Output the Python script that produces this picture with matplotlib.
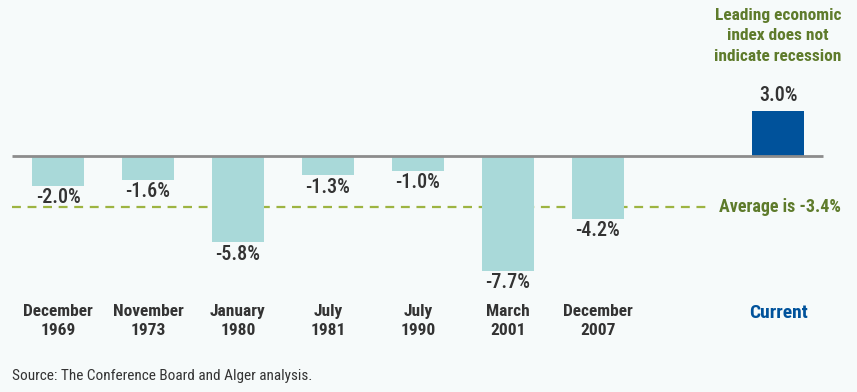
import matplotlib
matplotlib.use("Agg")
import matplotlib.pyplot as plt

categories = ["December\n1969", "November\n1973", "January\n1980", "July\n1981",
              "July\n1990", "March\n2001", "December\n2007", "", "Current"]
values = [-2.0, -1.6, -5.8, -1.3, -1.0, -7.7, -4.2, None, 3.0]
average = -3.4
value_labels = ["-2.0%", "-1.6%", "-5.8%", "-1.3%", "-1.0%", "-7.7%", "-4.2%", "", "3.0%"]

FONT = ["Liberation Sans Narrow", "Roboto Condensed", "DejaVu Sans"]
BG = "#F6FAFA"
TEAL = "#A9D9D9"
BLUE = "#00529B"
DARK = "#333333"
GREEN = "#5E7B2B"
DASH = "#9DB441"

W, H = 857, 392
fig = plt.figure(figsize=(W / 100, H / 100), dpi=100, facecolor=BG)
ax = fig.add_axes([0, 0, 1, 1])
ax.set_facecolor(BG)

x0, dx = 58, 90
ppu = 14.9
y0 = 156
ax.set_xlim((0 - x0) / dx, (W - x0) / dx)
ax.set_ylim(-(H - y0) / ppu, y0 / ppu)
ax.axis("off")

def px_x(p):
    return (p - x0) / dx

def px_y(p):
    return (y0 - p) / ppu

for i, v in enumerate(values):
    if v is None:
        continue
    color = BLUE if categories[i] == "Current" else TEAL
    ax.bar(i, v, width=0.58, color=color, zorder=2)
    if v < 0:
        ax.text(i, v - 0.15, value_labels[i], ha="center", va="top", fontsize=14.5,
                color=DARK, family=FONT, fontweight="medium", zorder=3)
    else:
        ax.text(i, v + 0.4, value_labels[i], ha="center", va="bottom", fontsize=14.5,
                color=DARK, family=FONT, fontweight="medium", zorder=3)

# zero line
ax.plot([px_x(12), px_x(823)], [0, 0], color="#8C8C8C", lw=2, zorder=3,
        solid_capstyle="butt")
# average line
ax.plot([px_x(12), px_x(712)], [average, average], color=DASH, lw=1.6,
        ls=(0, (4, 3)), zorder=1)
ax.text(px_x(719), average, "Average is -3.4%", ha="left", va="center",
        fontsize=13, fontweight="bold", color=GREEN, family=FONT)

# category labels
for i, c in enumerate(categories):
    if not c:
        continue
    col = BLUE if c == "Current" else DARK
    fs = 14 if c == "Current" else 12.5
    ax.text(i, px_y(304), c, ha="center", va="top", fontsize=fs, fontweight="bold",
            color=col, family=FONT, linespacing=1.3)

# annotation
ax.text(8, px_y(8), "Leading economic\nindex does not\nindicate recession", ha="center",
        va="top", fontsize=12.5, fontweight="bold", color=GREEN, family=FONT,
        linespacing=1.45)

ax.text(px_x(12), px_y(376), "Source: The Conference Board and Alger analysis.",
        ha="left", va="center", fontsize=11, color=DARK, family=FONT)

fig.savefig("out.png", dpi=100, facecolor=BG)
